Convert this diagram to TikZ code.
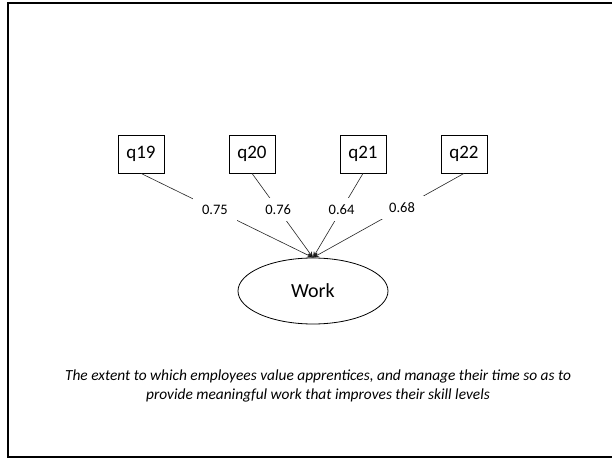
\documentclass[tikz,border=0pt]{standalone}
\usepackage{fontspec}
\setmainfont{Carlito}
\usetikzlibrary{arrows.meta,shapes.geometric}

\tikzset{
  indicator/.style={draw=black, line width=0.8pt, minimum width=46pt, minimum height=38pt,
                    inner sep=0pt, font=\fontsize{19}{22}\selectfont},
  latent/.style={draw=black, line width=0.8pt, ellipse, minimum width=150pt, minimum height=66pt,
                 inner sep=0pt, font=\fontsize{20}{24}\selectfont},
  loading/.style={line width=0.6pt, draw=black!85, -{Stealth[length=6pt,width=5pt,fill=black]}},
  weight/.style={fill=white, inner sep=0pt, minimum width=44pt, minimum height=23pt,
                 font=\fontsize{14.5}{17}\selectfont},
  caption/.style={align=center, font=\fontsize{15.4}{19}\selectfont\itshape}
}

\begin{document}
\begin{tikzpicture}[x=1pt, y=-1pt]
  \useasboundingbox (0,0) rectangle (612,462);
  \fill[white] (0,0) rectangle (612,462);
  % outer frame (its right side runs past the page edge)
  \draw[line width=2pt, black] (8,3) rectangle (622,457);

  % observed indicators
  \node[indicator] (q19) at (141,154) {q19};
  \node[indicator] (q20) at (252,154) {q20};
  \node[indicator] (q21) at (363,154) {q21};
  \node[indicator] (q22) at (464,154) {q22};

  % latent factor
  \node[latent] (work) at (313,291) {Work};

  % factor loadings
  \draw[loading] (q19.south) -- node[weight, pos=0.43] (l19) {0.75} (work.north);
  \draw[loading] (q20.south) -- node[weight, pos=0.43] (l20) {0.76} (work.north);
  \draw[loading] (q21.south) -- node[weight, pos=0.43] (l21) {0.64} (work.north);
  \draw[loading] (q22.south) -- node[weight, pos=0.41] (l22) {0.68} (work.north);

  % description of the factor
  \node[caption] (desc) at (318,386)
    {The extent to which employees value apprentices, and manage their time so as to\\
     provide meaningful work that improves their skill levels};
\end{tikzpicture}
\end{document}
